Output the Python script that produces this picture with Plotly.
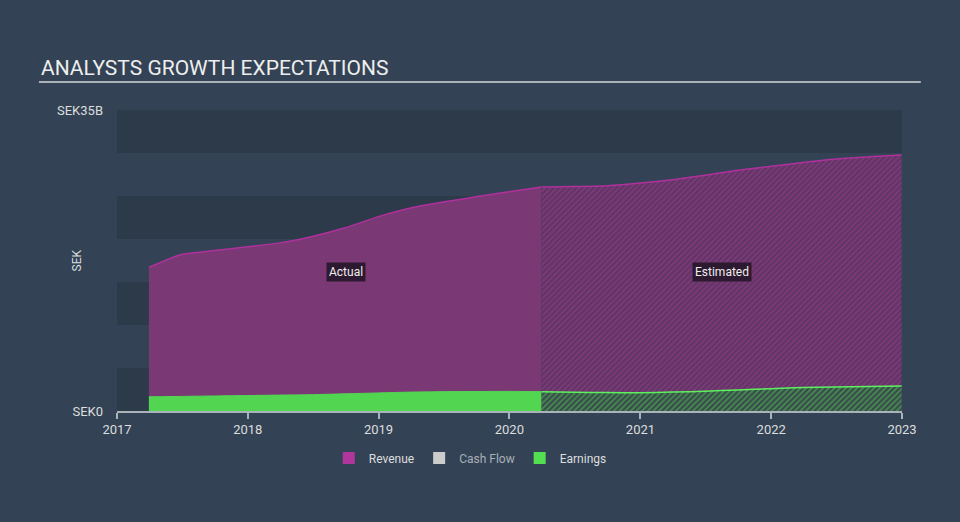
import plotly.graph_objects as go

# ---- data (SEK billions) ----
actual_dates = ["2017-03-31", "2017-06-30", "2017-09-30", "2017-12-31", "2018-03-31",
                "2018-06-30", "2018-09-30", "2018-12-31", "2019-03-31", "2019-06-30",
                "2019-09-30", "2019-12-31", "2020-03-31"]
actual_revenue = [16.7, 18.2, 18.65, 19.1, 19.55, 20.3, 21.3, 22.6, 23.6, 24.3, 24.9, 25.5, 26.05]
actual_earnings = [1.65, 1.7, 1.75, 1.8, 1.85, 1.9, 2.0, 2.1, 2.2, 2.25, 2.27, 2.28, 2.25]

est_dates = ["2020-03-31", "2020-06-30", "2020-09-30", "2020-12-31", "2021-03-31",
             "2021-06-30", "2021-09-30", "2021-12-31", "2022-03-31", "2022-06-30",
             "2022-09-30", "2022-12-31"]
est_revenue = [26.05, 26.1, 26.2, 26.5, 26.9, 27.4, 28.0, 28.45, 28.9, 29.3, 29.55, 29.77]
est_earnings = [2.25, 2.18, 2.14, 2.12, 2.2, 2.3, 2.45, 2.6, 2.72, 2.8, 2.86, 2.9]

y_max = 35
y_tickvals = [0, 35]
y_ticktext = ["SEK0", "SEK35B"]
x_range = ["2017-01-01", "2023-01-01"]
band_step = 5

legend_names = ["Revenue", "Cash Flow", "Earnings"]
legend_colors = ["#b0359d", "#cccccc", "#52e052"]

# ---- styling ----
BG = "#334355"
BAND = "#2c3a4a"
REV_FILL = "#7a3874"
REV_LINE = "#b0309d"
EARN_FILL = "#52d652"
EARN_LINE = "#5ef05e"
FONT = "Roboto"

fig = go.Figure()

fig.add_trace(go.Scatter(
    x=actual_dates, y=actual_revenue, mode="lines", fill="tozeroy",
    fillcolor=REV_FILL, line=dict(color=REV_LINE, width=1.5, shape="spline", smoothing=0.6),
    showlegend=False, hoverinfo="skip"))
fig.add_trace(go.Scatter(
    x=est_dates, y=est_revenue, mode="lines", fill="tozeroy",
    fillpattern=dict(shape="/", bgcolor="#7e3878", fgcolor="#3a3450", size=4, solidity=0.5),
    line=dict(color=REV_LINE, width=1.5, shape="spline", smoothing=0.6),
    showlegend=False, hoverinfo="skip"))
fig.add_trace(go.Scatter(
    x=actual_dates, y=actual_earnings, mode="lines", fill="tozeroy",
    fillcolor=EARN_FILL, line=dict(color=EARN_FILL, width=1, shape="spline", smoothing=0.6),
    showlegend=False, hoverinfo="skip"))
fig.add_trace(go.Scatter(
    x=est_dates, y=est_earnings, mode="lines", fill="tozeroy",
    fillpattern=dict(shape="/", bgcolor="#38484c", fgcolor="#52c852", size=4, solidity=0.5),
    line=dict(color=EARN_LINE, width=1.5, shape="spline", smoothing=0.6),
    showlegend=False, hoverinfo="skip"))

for name, col in zip(legend_names, legend_colors):
    label = name if name != "Cash Flow" else "<span style='color:#a9b0b8'>Cash Flow</span>"
    fig.add_trace(go.Scatter(
        x=[None], y=[None], mode="markers", name=label,
        marker=dict(symbol="square", size=15, color=col, line=dict(width=0))))

# background bands
shapes = []
for lo in range(0, y_max, band_step * 2):
    shapes.append(dict(type="rect", xref="paper", x0=0, x1=1, yref="y", y0=lo, y1=lo + band_step,
                       fillcolor=BAND, line=dict(width=0), layer="below"))
# title underline
shapes.append(dict(type="line", xref="paper", yref="paper", x0=-0.0994, x1=1.024, y0=1.093, y1=1.093,
                   line=dict(color="#a9b0b8", width=2)))

annotations = [
    dict(text="ANALYSTS GROWTH EXPECTATIONS", xref="paper", yref="paper", x=-0.0994, y=1.14,
         xanchor="left", yanchor="middle", showarrow=False,
         font=dict(family=FONT, size=21, color="#eeeeee")),
    dict(text="SEK", xref="paper", yref="paper", x=-0.051, y=0.5, textangle=-90,
         xanchor="center", yanchor="middle", showarrow=False,
         font=dict(family=FONT, size=12, color="#dddddd")),
    dict(text="Actual", x="2018-10-01", y=16.2, xref="x", yref="y", showarrow=False,
         bgcolor="#2e1a30", borderpad=2, font=dict(family=FONT, size=12, color="#eeeeee")),
    dict(text="Estimated", x="2021-08-17", y=16.2, xref="x", yref="y", showarrow=False,
         bgcolor="#2e1a30", borderpad=2, font=dict(family=FONT, size=12, color="#eeeeee")),
]

fig.update_layout(
    width=960, height=522,
    paper_bgcolor=BG, plot_bgcolor=BG,
    margin=dict(l=117, r=58, t=110, b=111),
    font=dict(family=FONT, color="#dddddd"),
    shapes=shapes, annotations=annotations,
    showlegend=True,
    legend=dict(orientation="h", x=0.45, xanchor="center", y=-0.156, yanchor="middle",
                font=dict(family=FONT, size=12, color="#dddddd"), bgcolor="rgba(0,0,0,0)",
                itemsizing="constant"),
    hovermode=False,
)
fig.update_xaxes(type="date", range=x_range, dtick="M12", tickformat="%Y",
                 showgrid=False, zeroline=False, showline=True, linecolor="#aab2ba", linewidth=1.5,
                 ticks="outside", ticklen=6, tickcolor="#aab2ba", tickwidth=1.5,
                 tickfont=dict(family=FONT, size=13, color="#dddddd"))
fig.update_yaxes(range=[0, y_max], tickvals=y_tickvals, ticktext=y_ticktext,
                 showgrid=False, zeroline=False, showline=False, ticks="",
                 ticklabelstandoff=13,
                 tickfont=dict(family=FONT, size=13, color="#dddddd"))

fig.write_html("out.html", config={"displayModeBar": False},
               post_script="document.body.style.margin='0';document.body.style.background='#334355';")
